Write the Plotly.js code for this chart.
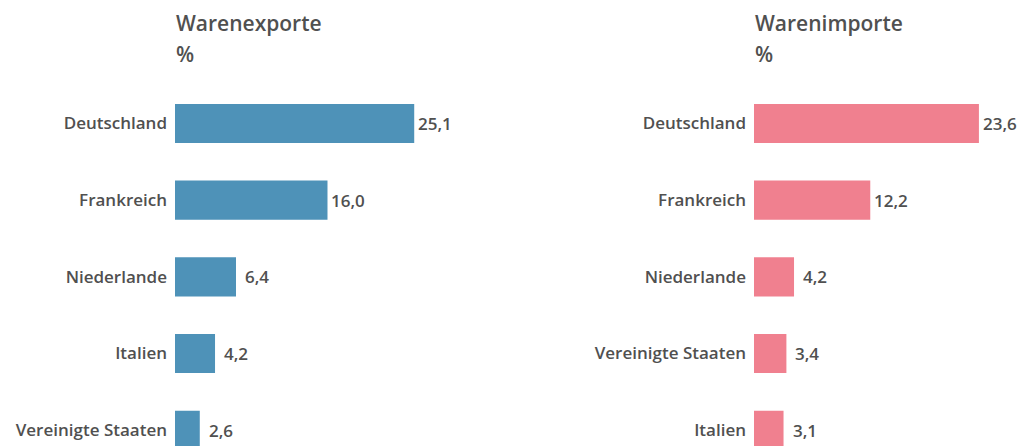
<!DOCTYPE html>
<html>
<head>
<meta charset="utf-8">
<script src="https://cdn.plot.ly/plotly-3.0.1.min.js"></script>
<style>html,body{margin:0;padding:0;background:#fff;}#chart{width:1022px;height:446px;}</style>
</head>
<body>
<div id="chart"></div>
<script>
const exportTitle = "Warenexporte";
const importTitle = "Warenimporte";
const unitLabel = "%";
const exportCountries = ["Deutschland", "Frankreich", "Niederlande", "Italien", "Vereinigte Staaten"];
const exportValues = [25.1, 16.0, 6.4, 4.2, 2.6];
const importCountries = ["Deutschland", "Frankreich", "Niederlande", "Vereinigte Staaten", "Italien"];
const importValues = [23.6, 12.2, 4.2, 3.4, 3.1];

const W = 1022, H = 446;
const FONT = "Open Sans, Noto Sans, sans-serif";
const TXT = "#505050";
const BLUE = "#4e92b8";
const PINK = "#f0808f";
const topM = 80;
const plotH = H - topM;
const xMax = 28.12;
const yRange = [4.206, -0.567];

function py(p){ return (H - p) / plotH; }

const traces = [
  {type: "bar", orientation: "h", x: exportValues, y: exportCountries, xaxis: "x", yaxis: "y",
   marker: {color: BLUE}, hoverinfo: "none", width: 0.51},
  {type: "bar", orientation: "h", x: importValues, y: importCountries, xaxis: "x2", yaxis: "y2",
   marker: {color: PINK}, hoverinfo: "none", width: 0.51}
];

const fmt = v => v.toFixed(1).replace(".", ",");
const annotations = [];
exportValues.forEach((v, i) => annotations.push({
  x: v, y: exportCountries[i], xref: "x", yref: "y", text: fmt(v), showarrow: false,
  xanchor: "center", yanchor: "middle", xshift: 21,
  font: {family: FONT, size: 17, color: TXT, weight: 600}
}));
importValues.forEach((v, i) => annotations.push({
  x: v, y: importCountries[i], xref: "x2", yref: "y2", text: fmt(v), showarrow: false,
  xanchor: "center", yanchor: "middle", xshift: 21,
  font: {family: FONT, size: 17, color: TXT, weight: 600}
}));
[[exportTitle, 174], [importTitle, 753]].forEach(([t, px]) => {
  annotations.push({x: px / W, y: py(23), xref: "paper", yref: "paper", text: t, showarrow: false,
    xanchor: "left", yanchor: "middle", font: {family: FONT, size: 21, color: TXT, weight: 600}});
  annotations.push({x: px / W, y: py(54), xref: "paper", yref: "paper", text: unitLabel, showarrow: false,
    xanchor: "left", yanchor: "middle", font: {family: FONT, size: 21, color: TXT, weight: 600}});
});

const yaxisBase = {type: "category", range: yRange, showgrid: false, zeroline: false, showline: false,
  ticks: "", ticklabelstandoff: 7, tickfont: {family: FONT, size: 17, color: TXT, weight: 600}, fixedrange: true};
const xaxisBase = {range: [0, xMax], showgrid: false, zeroline: false, showline: false,
  showticklabels: false, ticks: "", fixedrange: true};

const layout = {
  width: W, height: H,
  margin: {l: 0, r: 0, t: topM, b: 0, pad: 0},
  paper_bgcolor: "#fff", plot_bgcolor: "#fff",
  showlegend: false,
  separators: ",.",
  xaxis: Object.assign({}, xaxisBase, {domain: [175 / W, 443 / W], anchor: "y"}),
  xaxis2: Object.assign({}, xaxisBase, {domain: [754 / W, 1], anchor: "y2"}),
  yaxis: Object.assign({}, yaxisBase, {anchor: "x", domain: [0, 1]}),
  yaxis2: Object.assign({}, yaxisBase, {anchor: "x2", domain: [0, 1]}),
  annotations: annotations
};

Plotly.newPlot("chart", traces, layout, {displayModeBar: false, staticPlot: true});
</script>
</body>
</html>
